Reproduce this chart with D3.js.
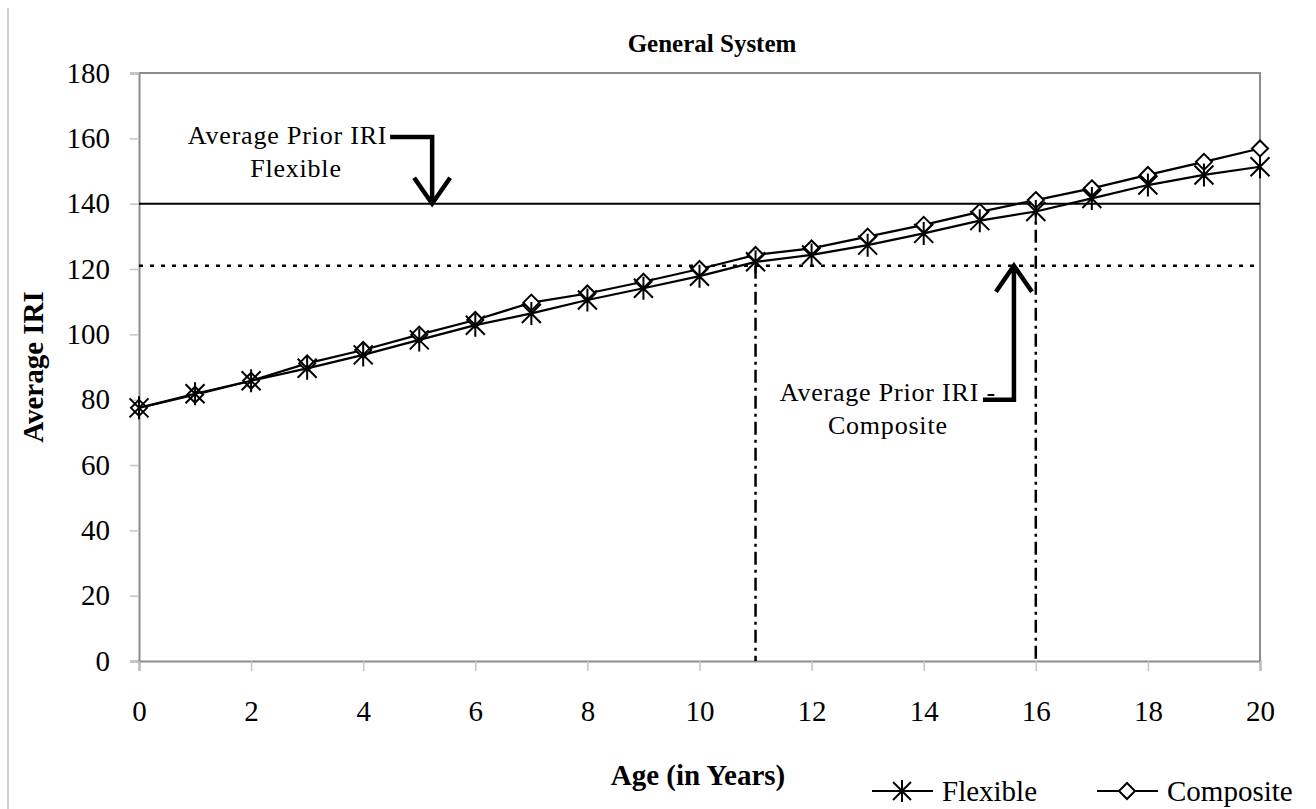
<!DOCTYPE html>
<html>
<head>
<meta charset="utf-8">
<script src="https://cdn.jsdelivr.net/npm/d3@7"></script>
<style>
  html, body { margin: 0; padding: 0; background: #fff; }
  svg { display: block; font-family: "Liberation Serif", "DejaVu Serif", serif; }
</style>
</head>
<body>
<div id="chart"></div>
<script>
// Average IRI by pavement age
const years = [0, 1, 2, 3, 4, 5, 6, 7, 8, 9, 10, 11, 12, 13, 14, 15, 16, 17, 18, 19, 20];
const flexible = [77.5, 81.8, 85.8, 89.6, 93.7, 98.3, 102.8, 106.4, 110.5, 114.1, 117.8, 122.2, 124.3, 127.3, 130.9, 134.8, 137.6, 141.6, 145.7, 148.8, 151.3];
const composite = [77.5, 81.5, 85.8, 91.1, 95.2, 99.9, 104.4, 109.7, 112.5, 116.1, 120.0, 124.3, 126.3, 129.9, 133.5, 137.5, 141.1, 144.7, 148.8, 152.8, 156.9];
const xTicks = [0, 2, 4, 6, 8, 10, 12, 14, 16, 18, 20];
const yTicks = [0, 20, 40, 60, 80, 100, 120, 140, 160, 180];

// prior IRI thresholds and the ages where they are reached
const priorFlexible = 140;
const priorComposite = 121;
const crossAges = [11, 16];

const FONT = "'Liberation Serif', 'DejaVu Serif', serif";
const W = 1316, H = 809;
const margin = { top: 73, right: 56, bottom: 148, left: 139 };
const width = W - margin.left - margin.right;
const height = H - margin.top - margin.bottom;

const svg = d3.select("#chart").append("svg")
  .attr("width", W)
  .attr("height", H)
  .style("font-family", FONT);

// faint page border on the left
svg.append("line")
  .attr("x1", 8).attr("x2", 8).attr("y1", 8).attr("y2", H)
  .style("stroke", "#cfcfcf").style("stroke-width", 2);

const g = svg.append("g").attr("transform", `translate(${margin.left},${margin.top})`);

const x = d3.scaleLinear().domain([0, 20]).range([0, width]);
const y = d3.scaleLinear().domain([0, 180]).range([height, 0]);

// plot frame (top and right)
g.append("path")
  .attr("d", `M0,0H${width}V${height}`)
  .style("fill", "none").style("stroke", "#8c8c8c").style("stroke-width", 2);

// axes
const yAxis = g.append("g")
  .call(d3.axisLeft(y).tickValues(yTicks).tickSize(9).tickPadding(20).tickFormat(d3.format("d")));
const xAxis = g.append("g")
  .attr("transform", `translate(0,${height})`)
  .call(d3.axisBottom(x).tickValues(xTicks).tickSize(10).tickPadding(29).tickFormat(d3.format("d")));

[yAxis, xAxis].forEach(ax => {
  ax.attr("font-family", null).attr("font-size", null);
  ax.select(".domain").style("stroke", "#8c8c8c").style("stroke-width", 2);
  ax.selectAll(".tick line").style("stroke", "#c4c4c4").style("stroke-width", 1.5);
  ax.selectAll("text")
    .style("font-family", FONT)
    .style("font-size", "29px")
    .style("fill", "#000");
});

// reference lines
g.append("line")
  .attr("x1", x(0)).attr("x2", x(20))
  .attr("y1", y(priorFlexible)).attr("y2", y(priorFlexible))
  .style("stroke", "#000").style("stroke-width", 2);

g.append("line")
  .attr("x1", x(0)).attr("x2", x(20))
  .attr("y1", y(priorComposite)).attr("y2", y(priorComposite))
  .style("stroke", "#000").style("stroke-width", 2.5)
  .style("stroke-dasharray", "4,7");

g.selectAll(".cross")
  .data(crossAges)
  .enter().append("line")
  .attr("class", "cross")
  .attr("x1", d => x(d)).attr("x2", d => x(d))
  .attr("y1", (d, i) => y(i === 0 ? priorComposite : priorFlexible))
  .attr("y2", y(0))
  .style("stroke", "#000").style("stroke-width", 2.5)
  .style("stroke-dasharray", "13,5,3,5");

// series
const line = d3.line().x((d, i) => x(years[i])).y(d => y(d));

g.append("path")
  .datum(composite)
  .attr("d", line)
  .style("fill", "none").style("stroke", "#000").style("stroke-width", 2.2);

const diamond = r => `M0,${-r}L${r},0L0,${r}L${-r},0Z`;
const star = r => `M${-r},${-r}L${r},${r}M${-r},${r}L${r},${-r}M0,${-r - 2}L0,${r + 2}`;

g.selectAll(".comp-pt")
  .data(composite)
  .enter().append("path")
  .attr("class", "comp-pt")
  .attr("transform", (d, i) => `translate(${x(years[i])},${y(d)})`)
  .attr("d", diamond(8))
  .style("fill", "#fff").style("stroke", "#000").style("stroke-width", 2);

g.append("path")
  .datum(flexible)
  .attr("d", line)
  .style("fill", "none").style("stroke", "#000").style("stroke-width", 2.2);

g.selectAll(".flex-pt")
  .data(flexible)
  .enter().append("path")
  .attr("class", "flex-pt")
  .attr("transform", (d, i) => `translate(${x(years[i])},${y(d)})`)
  .attr("d", star(9.5))
  .style("fill", "none").style("stroke", "#000").style("stroke-width", 2);

// annotations
function addArrow(tipYear, tipValue, tailValue, elbowLen, pointDown) {
  const tx = x(tipYear), ty = y(tipValue), sy = y(tailValue);
  const wing = pointDown ? -26 : 26;
  g.append("path")
    .attr("d", `M${tx - elbowLen},${sy}H${tx}V${ty}M${tx - 18},${ty + wing}L${tx},${ty}L${tx + 18},${ty + wing}`)
    .style("fill", "none").style("stroke", "#000").style("stroke-width", 4.5)
    .style("stroke-linejoin", "miter");
}

function addNote(cx, base1, lines) {
  const t = g.append("text")
    .attr("text-anchor", "middle")
    .style("font-size", "26px")
    .style("letter-spacing", "0.8px")
    .style("fill", "#000");
  lines.forEach((s, i) => {
    t.append("tspan").attr("x", cx).attr("y", base1 + i * 33).text(s);
  });
}

addArrow(5.23, priorFlexible, 160.4, 42, true);
addNote(x(2.8), y(158.2), ["Average Prior IRI -", "Flexible"]);

addArrow(15.61, priorComposite, 80, 31, false);
addNote(x(13.36), y(79.5), ["Average Prior IRI -", "Composite"]);

// titles
svg.append("text")
  .attr("x", 712).attr("y", 52)
  .attr("text-anchor", "middle")
  .style("font-size", "25px").style("font-weight", "bold")
  .text("General System");

svg.append("text")
  .attr("transform", `translate(43,${margin.top + height / 2}) rotate(-90)`)
  .attr("text-anchor", "middle")
  .style("font-size", "29px").style("font-weight", "bold")
  .text("Average IRI");

svg.append("text")
  .attr("x", 698).attr("y", 785)
  .attr("text-anchor", "middle")
  .style("font-size", "29px").style("font-weight", "bold")
  .text("Age (in Years)");

// legend
const legend = svg.append("g").attr("transform", "translate(872,791)");
const items = [
  { name: "Flexible", marker: star(9), fill: "none", dx: 0 },
  { name: "Composite", marker: diamond(8), fill: "#fff", dx: 225 }
];
items.forEach(it => {
  const lg = legend.append("g").attr("transform", `translate(${it.dx},0)`);
  lg.append("line").attr("x1", 0).attr("x2", 61).attr("y1", 0).attr("y2", 0)
    .style("stroke", "#000").style("stroke-width", 2);
  lg.append("path").attr("transform", "translate(30,0)").attr("d", it.marker)
    .style("fill", it.fill).style("stroke", "#000").style("stroke-width", 2);
  lg.append("text").attr("x", 70).attr("y", 10)
    .style("font-size", "29px").text(it.name);
});
</script>
</body>
</html>
